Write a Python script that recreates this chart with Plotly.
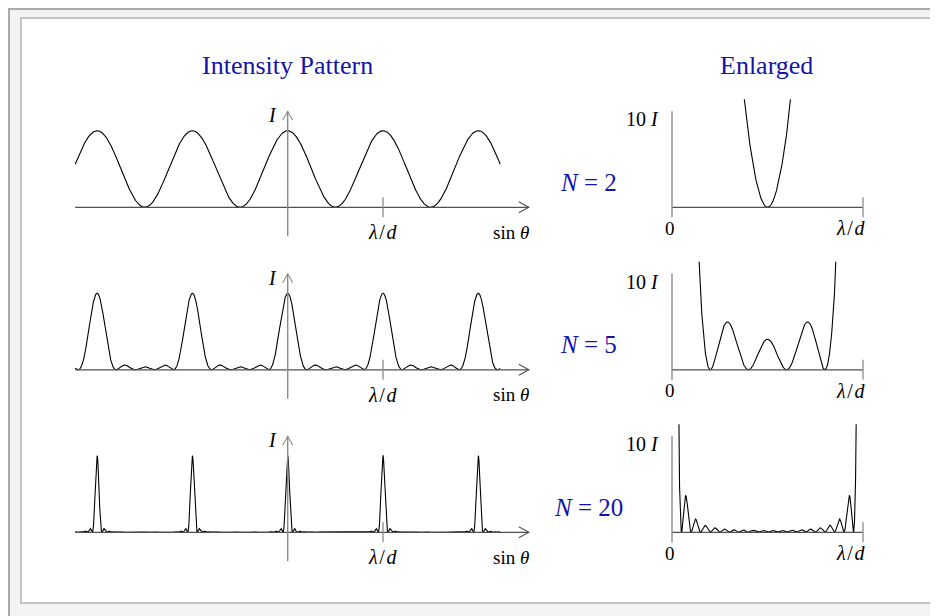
"""
plot.py
=======
Intensity pattern of an N-slit grating, with an enlarged view (10 I)
of one period between two principal maxima.
"""

import numpy as np
import plotly.graph_objects as go

# ─────────────────────────────────────────────────────────────────────────────
# DATA
# ─────────────────────────────────────────────────────────────────────────────

N_VALUES = [2, 5, 20]              # number of slits per row
ENLARGE = 10                       # vertical factor of the right-hand view
X_LEFT = [-2.23, 2.23]             # sin(theta) extent, in units of lambda/d
X_RIGHT = [0.0, 1.0]               # enlarged period, 0 .. lambda/d
TITLES = ["Intensity Pattern", "Enlarged"]
N_LABELS = ["<i>N</i> = 2", "<i>N</i> = 5", "<i>N</i> = 20"]
LAMBDA_D = "<i>λ</i>\u200a/\u200a<i>d</i>"
TICK_LEFT = [LAMBDA_D, "sin <i>θ</i>"]
TICK_RIGHT = ["0", LAMBDA_D]
Y_LABEL_LEFT = "<i>I</i>"
Y_LABEL_RIGHT = "10 <i>I</i>"

# ─────────────────────────────────────────────────────────────────────────────
# STYLE / GEOMETRY (pixels of the 938 x 616 page)
# ─────────────────────────────────────────────────────────────────────────────

W, H = 938, 616
OFF = 8              # the page body puts the figure 8 px in from the corner
FONT = "Liberation Serif"
BLUE = "#1414a8"
AX_H = "#505050"     # horizontal baselines
AX_V = "#8a8a8a"     # vertical axes
X0_L, UNIT_L = 287.7, 95.3     # left: pixel of x=0 and px per lambda/d
X0_R, UNIT_R = 672.0, 191.0    # right
UNIT_Y = 76.6                  # px per unit of I (and of 10 I on the right)
BASE0, STEP = 207.3, 162.5     # baseline of first row, row spacing
AXIS_TIP = 2.53                # end of the sin(theta) arrow


def fx(px):
    return (px - OFF) / W


def fy(py):
    return 1 - (py - OFF) / H


def intensity(x, n):
    """Normalised grating intensity sin^2(N pi x) / (N sin(pi x))^2."""
    s = np.sin(np.pi * x)
    num = np.sin(n * np.pi * x)
    out = np.ones_like(x)
    ok = np.abs(s) > 1e-12
    out[ok] = (num[ok] / (n * s[ok])) ** 2
    return out


fig = go.Figure()
shapes, annotations, layout_axes = [], [], {}

# page frame
shapes.append(dict(type="rect", xref="paper", yref="paper",
                   x0=fx(21), x1=fx(935), y0=fy(603), y1=fy(18),
                   fillcolor="white", line=dict(color="#c4c4c4", width=2),
                   layer="below"))
shapes.append(dict(type="line", xref="paper", yref="paper",
                   x0=fx(9), x1=fx(9), y0=0, y1=fy(8),
                   line=dict(color="#aaaaaa", width=2), layer="below"))
shapes.append(dict(type="line", xref="paper", yref="paper",
                   x0=fx(8), x1=1, y0=fy(9), y1=fy(9),
                   line=dict(color="#aaaaaa", width=2), layer="below"))

for title, cx in zip(TITLES, [287, 766]):
    annotations.append(dict(text=title, xref="paper", yref="paper",
                            x=fx(cx), y=fy(65), xanchor="center",
                            yanchor="middle", showarrow=False,
                            font=dict(family=FONT, size=26, color=BLUE)))

# ─────────────────────────────────────────────────────────────────────────────
# ROWS
# ─────────────────────────────────────────────────────────────────────────────

for i, n in enumerate(N_VALUES):
    base = BASE0 + i * STEP
    kl, kr = 2 * i + 1, 2 * i + 2
    xl, yl, xr, yr = f"x{kl}", f"y{kl}", f"x{kr}", f"y{kr}"

    # axes: left panel
    layout_axes[f"xaxis{kl}"] = dict(
        domain=[fx(60), fx(545)], anchor=yl, visible=False, fixedrange=True,
        range=[(60 - X0_L) / UNIT_L, (545 - X0_L) / UNIT_L])
    layout_axes[f"yaxis{kl}"] = dict(
        domain=[fy(base + 40), fy(base - 120)], anchor=xl, visible=False,
        fixedrange=True, range=[-40 / UNIT_Y, 120 / UNIT_Y])
    # axes: right panel
    layout_axes[f"xaxis{kr}"] = dict(
        domain=[fx(615), fx(905)], anchor=yr, visible=False, fixedrange=True,
        range=[(615 - X0_R) / UNIT_R, (905 - X0_R) / UNIT_R])
    layout_axes[f"yaxis{kr}"] = dict(
        domain=[fy(base + 40), fy(base - 108)], anchor=xr, visible=False,
        fixedrange=True, range=[-40 / UNIT_Y, 108 / UNIT_Y])

    # curves
    x = np.linspace(X_LEFT[0], X_LEFT[1], 8001)
    fig.add_trace(go.Scatter(x=x, y=intensity(x, n), xaxis=xl, yaxis=yl,
                             mode="lines", line=dict(color="black", width=1.1),
                             hoverinfo="skip", showlegend=False))
    xe = np.linspace(X_RIGHT[0], X_RIGHT[1], 4001)
    fig.add_trace(go.Scatter(x=xe, y=ENLARGE * intensity(xe, n),
                             xaxis=xr, yaxis=yr, mode="lines",
                             line=dict(color="black", width=1.1),
                             hoverinfo="skip", showlegend=False))

    # left: baseline with arrow, vertical I axis with arrow, lambda/d tick
    shapes += [
        dict(type="line", xref=xl, yref=yl, x0=X_LEFT[0], x1=AXIS_TIP,
             y0=0, y1=0, line=dict(color=AX_H, width=1.2)),
        dict(type="path", xref=xl, yref=yl, xsizemode="pixel",
             ysizemode="pixel", xanchor=AXIS_TIP, yanchor=0,
             path="M -10,5.5 L 0,0 L -10,-5.5",
             line=dict(color=AX_H, width=1.1)),
        dict(type="line", xref=xl, yref=yl, ysizemode="pixel", yanchor=0,
             x0=0, x1=0, y0=-29, y1=96, line=dict(color=AX_V, width=1.4)),
        dict(type="path", xref=xl, yref=yl, xsizemode="pixel",
             ysizemode="pixel", xanchor=0, yanchor=0,
             path="M -5,87 L 0,96 L 5,87", line=dict(color=AX_V, width=1.1)),
        dict(type="line", xref=xl, yref=yl, ysizemode="pixel", yanchor=0,
             x0=1, x1=1, y0=-10, y1=10, line=dict(color=AX_V, width=1.3)),
    ]
    # right: baseline, vertical axis, end tick
    shapes += [
        dict(type="line", xref=xr, yref=yr, x0=X_RIGHT[0], x1=X_RIGHT[1],
             y0=0, y1=0, line=dict(color=AX_H, width=1.2)),
        dict(type="line", xref=xr, yref=yr, ysizemode="pixel", yanchor=0,
             x0=0, x1=0, y0=-10, y1=96, line=dict(color=AX_V, width=1.4)),
        dict(type="line", xref=xr, yref=yr, ysizemode="pixel", yanchor=0,
             x0=1, x1=1, y0=-10, y1=10, line=dict(color=AX_V, width=1.3)),
    ]

    txt = dict(family=FONT, size=19, color="black")
    annotations += [
        dict(text=Y_LABEL_LEFT, xref=xl, yref=yl, x=-0.16, y=92 / UNIT_Y,
             showarrow=False, font=dict(family=FONT, size=20, color="black")),
        dict(text=TICK_LEFT[0], xref=xl, yref=yl, x=1, y=0, yshift=-25,
             showarrow=False, font=dict(family=FONT, size=20, color="black")),
        dict(text=TICK_LEFT[1], xref=xl, yref=yl,
             x=(510.5 - X0_L) / UNIT_L, y=0, yshift=-25,
             showarrow=False, font=txt),
        dict(text=TICK_RIGHT[0], xref=xr, yref=yr, x=0, y=0, yshift=-21,
             xshift=-2, showarrow=False, font=txt),
        dict(text=TICK_RIGHT[1], xref=xr, yref=yr, x=1, y=0, yshift=-21,
             xshift=-12, showarrow=False,
             font=dict(family=FONT, size=20, color="black")),
        dict(text=Y_LABEL_RIGHT, xref=xr, yref=yr, x=0, y=88 / UNIT_Y,
             xanchor="right", xshift=-11, showarrow=False,
             font=dict(family=FONT, size=20, color="black")),
        dict(text=N_LABELS[i], xref="paper", yref="paper",
             x=fx(588), y=fy(base - 25), xanchor="center", yanchor="middle",
             showarrow=False, font=dict(family=FONT, size=25, color=BLUE)),
    ]

fig.update_layout(
    width=W, height=H,
    margin=dict(l=0, r=0, t=0, b=0),
    paper_bgcolor="#f3f3f3",
    plot_bgcolor="rgba(0,0,0,0)",
    showlegend=False,
    shapes=shapes,
    annotations=annotations,
    **layout_axes,
)

fig.write_html("out.html")
